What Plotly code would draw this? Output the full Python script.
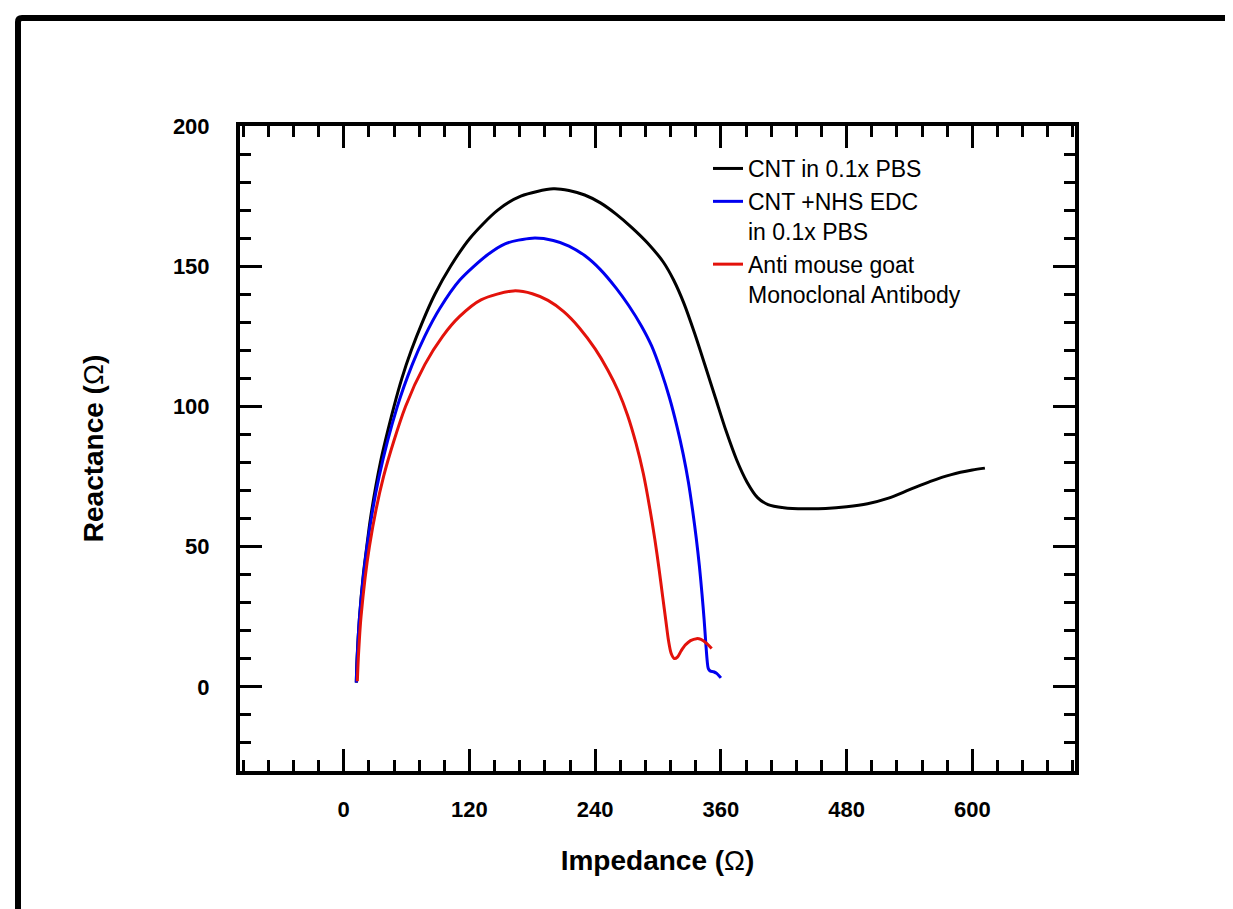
import plotly.graph_objects as go

# ---------------- data ----------------
cnt_x = [12, 12.7, 15.1, 18.7, 22, 25.5, 35, 48, 55.5, 64.5, 75, 87, 102, 120.5, 147, 169,
         200, 215, 230, 245, 260, 275, 290, 305, 315, 325, 335, 345, 355, 365, 375, 385, 395,
         405, 420, 440, 460, 480, 500, 520, 540, 560, 580, 600, 612]
cnt_y = [1.5, 10, 25, 40, 50, 60, 80, 100, 110, 120, 130, 140, 150, 160, 170, 175,
         177.6, 177.0, 175.4, 172.6, 168.6, 163.8, 158.3, 151.5, 145.0, 136.5, 126.0, 114.5,
         102.8, 91.2, 81.0, 73.0, 67.5, 65.0, 63.9, 63.5, 63.6, 64.2, 65.3, 67.3, 70.3, 73.3,
         75.7, 77.3, 78]

nhs_x = [12, 12.8, 15.1, 22.2, 33.8, 51.2, 65.5, 77.3, 91.8, 110.6, 137, 154, 180, 200, 215,
         230, 245, 260, 272, 284, 294, 303, 311, 318, 324, 329, 333, 336.5, 339.5, 342, 344,
         345.7, 347, 348, 350, 353, 356, 360]
nhs_y = [1.5, 10, 25, 50, 75, 100, 115, 125, 135, 145, 154, 158, 160, 159.2, 157.2, 153.8,
         148.8, 142.2, 136.0, 128.8, 121.5, 112.5, 103.0, 93.0, 83.0, 73.0, 63.0, 53.0, 43.0,
         33.0, 24.0, 15.0, 9.0, 6.5, 5.6, 5.4, 4.8, 3.2]

ab_x = [13, 13.9, 16.5, 24.5, 38, 59, 77.5, 94.4, 110.4, 131, 162, 180, 195, 210, 225, 240,
        252, 262, 271, 279, 286, 292, 297, 301, 304.5, 307.5, 310, 312.5, 315.5, 318.5, 322,
        326, 331, 336.8, 341, 346.4, 351.2]
ab_y = [2, 10, 25, 50, 75, 100, 115, 125, 132, 138, 141.2, 140.2, 137.8, 133.8, 128.0, 120.5,
        113.0, 105.5, 96.8, 86.8, 76.0, 64.0, 52.5, 42.0, 32.0, 23.5, 16.5, 12.0, 10.1, 10.6,
        12.8, 14.9, 16.5, 17.2, 16.9, 15.5, 13.7]

series_names = ["CNT in 0.1x PBS", "CNT +NHS EDC<br>in 0.1x PBS",
                "Anti mouse goat<br>Monoclonal Antibody"]
series_colors = ["#000000", "#0000F0", "#E3120B"]

x_ticks = [0, 120, 240, 360, 480, 600]
y_ticks = [0, 50, 100, 150, 200]

# ---------------- figure ----------------
fig = go.Figure()
for xs, ys, name, col in zip([cnt_x, nhs_x, ab_x], [cnt_y, nhs_y, ab_y],
                             series_names, series_colors):
    fig.add_trace(go.Scatter(x=xs, y=ys, mode="lines", name=name,
                             line=dict(color=col, width=3, shape="spline", smoothing=0.8)))

W, H = 1233, 909
L, R, T, B = 232, 1067, 118, 763

axis_common = dict(
    showline=True, linecolor="black", linewidth=4, mirror="ticks",
    ticks="inside", ticklen=22, tickwidth=3, tickcolor="black",
    showgrid=False, zeroline=False,
    tickfont=dict(family="Liberation Sans, Arial", size=22, color="black", weight="bold"),
)

fig.update_layout(
    width=W, height=H,
    margin=dict(l=L, r=W - R, t=T, b=H - B),
    paper_bgcolor="white", plot_bgcolor="white",
    font=dict(family="Liberation Sans, Arial", color="black"),
    xaxis=dict(
        range=[-99, 698], tickmode="array", tickvals=x_ticks,
        ticktext=[str(v) for v in x_ticks],
        minor=dict(dtick=24, tick0=0, ticks="inside", ticklen=11, tickwidth=3, tickcolor="black"),
        ticklabelstandoff=16,
        title=dict(text="<b>Impedance (</b>Ω<b>)</b>", font=dict(size=28, color="black"), standoff=30),
        **axis_common,
    ),
    yaxis=dict(
        range=[-30, 200], tickmode="array", tickvals=y_ticks,
        ticktext=[str(v) for v in y_ticks],
        minor=dict(dtick=10, tick0=0, ticks="inside", ticklen=11, tickwidth=3, tickcolor="black"),
        ticklabelstandoff=22,
        title=dict(text="<b>Reactance (</b>Ω<b>)</b>", font=dict(size=28, color="black"), standoff=62),
        **axis_common,
    ),
    legend=dict(
        x=(700 - L) / (R - L), y=(B - 139) / (B - T), xanchor="left", yanchor="top",
        bgcolor="rgba(0,0,0,0)", borderwidth=0, valign="top", tracegroupgap=0,
        font=dict(family="Liberation Sans, Arial", size=23, color="black"),
    ),
    showlegend=True,
)

# outer frame (left and top edges of the picture)
px = lambda v: (v - L) / (R - L)
py = lambda v: (B - v) / (B - T)
fig.add_shape(type="path", xref="paper", yref="paper",
              path=f"M {px(10)} {py(909)} L {px(10)} {py(14)} Q {px(10)} {py(10)} {px(14)} {py(10)} L {px(1233)} {py(10)}",
              line=dict(color="black", width=6))

fig.write_html("out.html")
